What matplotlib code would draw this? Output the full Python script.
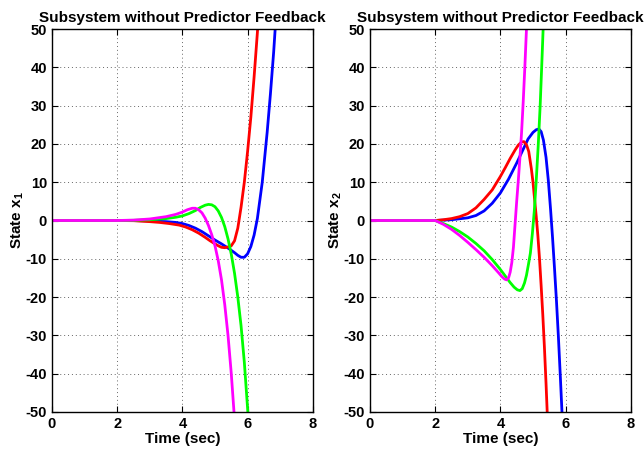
import matplotlib
matplotlib.use("Agg")
import matplotlib.pyplot as plt

plt.rcParams['font.family'] = ['Liberation Sans', 'DejaVu Sans']
plt.rcParams['font.weight'] = 'bold'
plt.rcParams['axes.unicode_minus'] = False
plt.rcParams['mathtext.fontset'] = 'custom'
plt.rcParams['mathtext.bf'] = 'Liberation Sans:bold'
plt.rcParams['mathtext.rm'] = 'Liberation Sans:bold'
plt.rcParams['mathtext.default'] = 'bf'

# State x1 (left panel)
t_red1 = [0, 2, 2.5, 3, 3.3, 3.6, 3.9, 4.1, 4.3, 4.5, 4.7, 4.85, 5.0, 5.1, 5.2, 5.3, 5.4,
          5.5, 5.6, 5.7, 5.8, 5.9, 6.0, 6.1, 6.2, 6.3, 6.4]
x1_red = [0, 0, -0.05, -0.3, -0.5, -0.8, -1.2, -1.7, -2.4, -3.3, -4.4, -5.3, -6.1, -6.6, -7.0,
          -7.1, -6.9, -6.6, -5.3, -2.0, 3.5, 10, 18, 27, 37.5, 49, 62]
t_blue1 = [0, 2, 2.5, 3, 3.5, 3.8, 4.0, 4.2, 4.4, 4.6, 4.8, 5.0, 5.2, 5.4, 5.6, 5.7, 5.8,
           5.9, 6.0, 6.1, 6.2, 6.3, 6.45, 6.6, 6.7, 6.8, 6.9]
x1_blue = [0, 0, -0.02, -0.1, -0.3, -0.5, -0.8, -1.3, -2.0, -2.9, -4.0, -5.1, -6.1, -7.2,
           -8.4, -9.1, -9.6, -9.6, -8.7, -6.8, -3.8, 0.5, 10, 23, 33, 44, 57]
t_green1 = [0, 2, 2.5, 3, 3.5, 3.8, 4.0, 4.2, 4.4, 4.55, 4.7, 4.8, 4.9, 5.0, 5.1, 5.2, 5.3,
            5.4, 5.5, 5.6, 5.7, 5.8, 5.9, 6.0, 6.1]
x1_green = [0, 0, 0.05, 0.2, 0.5, 0.85, 1.2, 1.8, 2.6, 3.4, 4.0, 4.2, 4.1, 3.6, 2.5, 0.8, -1.6,
            -4.8, -8.8, -13.8, -20, -27.5, -37, -49, -63]
t_mag1 = [0, 2, 2.5, 3, 3.5, 3.8, 4.0, 4.15, 4.3, 4.4, 4.5, 4.6, 4.7, 4.8, 4.9, 5.0, 5.1,
          5.2, 5.3, 5.4, 5.5, 5.6, 5.65]
x1_mag = [0, 0, 0.1, 0.4, 1.0, 1.6, 2.2, 2.8, 3.2, 3.2, 2.8, 2.0, 0.6, -1.3, -3.7, -6.6, -10.5,
          -15.5, -22, -30, -40, -52, -59]

# State x2 (right panel)
t_red2 = [0, 2, 2.25, 2.5, 2.75, 3.0, 3.25, 3.5, 3.75, 4.0, 4.15, 4.3, 4.45, 4.55, 4.65, 4.72,
          4.8, 4.87, 4.95, 5.0, 5.05, 5.1, 5.15, 5.2, 5.25, 5.3, 5.35, 5.4, 5.45]
x2_red = [0, 0, 0.2, 0.5, 1.0, 1.8, 3.3, 5.5, 8.0, 11.5, 13.8, 16.2, 18.4, 19.7, 20.5, 20.6,
          19.8, 18.0, 13.5, 10, 5.5, 1, -4, -10, -17, -24.5, -33, -42.5, -53]
t_blue2 = [0, 2, 2.5, 3.0, 3.25, 3.5, 3.75, 4.0, 4.25, 4.5, 4.7, 4.85, 5.0, 5.1, 5.18, 5.25,
           5.32, 5.4, 5.47, 5.54, 5.6, 5.66, 5.72, 5.78, 5.84, 5.9]
x2_blue = [0, 0, 0.2, 0.7, 1.3, 2.5, 4.5, 7.2, 10.8, 15, 18.6, 21.3, 23.0, 23.7, 23.9, 23.2,
           21.0, 16.5, 10.5, 2.8, -4.5, -12.5, -21, -30.5, -41, -52]
t_green2 = [0, 2, 2.25, 2.5, 2.75, 3.0, 3.25, 3.5, 3.75, 4.0, 4.15, 4.3, 4.42, 4.52, 4.6, 4.67,
            4.74, 4.8, 4.86, 4.92, 4.98, 5.04, 5.1, 5.16, 5.22, 5.28, 5.32]
x2_green = [0, 0, -0.8, -1.7, -2.9, -4.3, -6.0, -7.9, -10.2, -12.8, -14.5, -16.2, -17.4, -18.1,
            -18.3, -17.8, -16.3, -14.3, -11.5, -8.5, -3.5, 2.5, 10.5, 19.5, 30, 43, 52]
t_mag2 = [0, 2, 2.25, 2.5, 2.75, 3.0, 3.25, 3.5, 3.75, 3.95, 4.05, 4.13, 4.19, 4.25, 4.3, 4.35,
          4.4, 4.45, 4.5, 4.55, 4.6, 4.65, 4.7, 4.75, 4.8, 4.85]
x2_mag = [0, 0, -1.0, -2.3, -3.9, -5.7, -7.6, -9.6, -11.8, -13.7, -14.7, -15.3, -15.5, -15.0,
          -13.5, -11, -7, -1, 5, 10.5, 16.5, 23, 31, 40, 50, 61]

x_ticks = [0, 2, 4, 6, 8]
y_ticks = [-50, -40, -30, -20, -10, 0, 10, 20, 30, 40, 50]
title = "Subsystem without Predictor Feedback"

fig = plt.figure(figsize=(6.44, 4.57), dpi=100)
ax1 = fig.add_axes([0.0807, 0.0985, 0.405, 0.838])
ax2 = fig.add_axes([0.5745, 0.0985, 0.405, 0.838])

panels = [
    (ax1, [(t_blue1, x1_blue, 'blue'), (t_red1, x1_red, 'red'),
           (t_green1, x1_green, '#00ff00'), (t_mag1, x1_mag, 'magenta')],
     'State x$_1$'),
    (ax2, [(t_blue2, x2_blue, 'blue'), (t_red2, x2_red, 'red'),
           (t_green2, x2_green, '#00ff00'), (t_mag2, x2_mag, 'magenta')],
     'State x$_2$'),
]

for ax, curves, ylab in panels:
    for t, x, c in curves:
        ax.plot(t, x, color=c, lw=2, solid_joinstyle='round')
    ax.set_xlim(0, 8)
    ax.set_ylim(-50, 50)
    ax.set_xticks(x_ticks)
    ax.set_yticks(y_ticks)
    ax.grid(True, linestyle=(0, (1, 3)), color='#666666', lw=0.7)
    ax.tick_params(direction='in', top=True, right=True, length=4, labelsize=10.5)
    for lbl in ax.get_xticklabels() + ax.get_yticklabels():
        lbl.set_fontweight('bold')
    for s in ax.spines.values():
        s.set_linewidth(1.0)
    ax.set_title(title, fontsize=11, fontweight='bold', pad=5)
    ax.set_xlabel('Time (sec)', fontsize=11, fontweight='bold', labelpad=1)
    ax.set_ylabel(ylab, fontsize=11, fontweight='bold', labelpad=0)

fig.savefig('out.png', dpi=100)
